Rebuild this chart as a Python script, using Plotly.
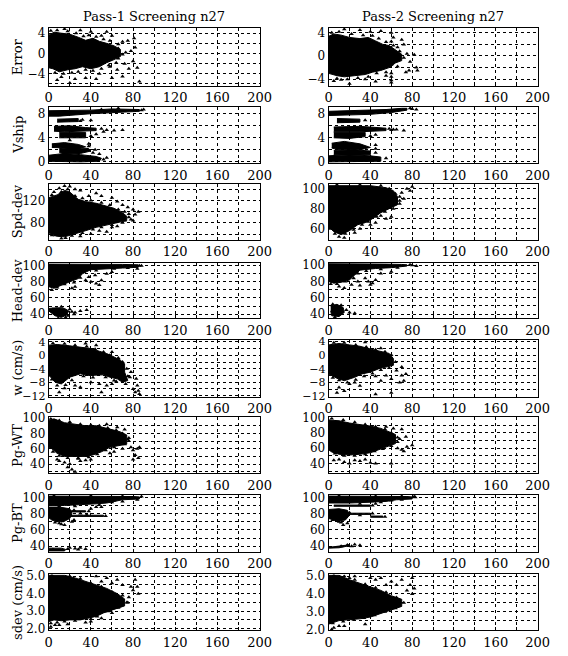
import plotly.graph_objects as go

W, H = 568, 656

TITLES = ["Pass-1 Screening n27", "Pass-2 Screening n27"]
Y_LABELS = ["Error", "Vship", "Spd-dev", "Head-dev", "w (cm/s)", "Pg-WT", "Pg-BT", "sdev (cm/s)"]
X_TICKS = [0, 40, 80, 120, 160, 200]

# ---- Row 1: Error ----
err1_blob = [(0,3.6),(5,4.2),(12,4.0),(20,3.8),(28,3.2),(35,2.6),(42,3.0),(48,2.4),(55,2.0),(62,1.5),(68,0.8),
             (68,-0.6),(62,-1.2),(55,-1.8),(48,-2.6),(40,-3.0),(32,-2.6),(25,-3.0),(18,-3.2),(10,-3.6),(4,-3.0),(0,-2.8)]
err1_pts = [(75,2.5),(78,0.5),(82,1.2),(80,-1.5),(84,-2.8),(86,-5.5),(45,-5.0),(60,-4.8),(70,-4.5),(20,-5.8),
            (25,-5.0),(35,-4.8),(55,4.3),(60,3.5),(70,2.3),(72,-2.0),(76,-3.0),(65,-3.2),(50,3.5),(30,4.6),
            (15,4.8),(40,4.3),(48,-4.0),(12,-4.6),(8,-5.2),(58,-2.6),(66,1.8),(64,-1.8),(73,0.2),(81,3.0),
            (2,4.5),(8,4.6),(18,4.4),(26,4.0),(33,3.4),(38,3.6),(45,3.3),(52,2.8),(58,2.5),(66,1.0),
            (70,-0.2),(66,-1.0),(57,-2.3),(50,-3.0),(42,-3.4),(35,-3.2),(28,-3.6),(14,-4.0),(6,-3.8),(22,-3.8)]
err2_blob = [(0,3.4),(5,3.8),(12,3.6),(20,3.2),(30,3.0),(38,3.2),(45,2.6),(52,2.0),(58,1.8),(64,1.0),(70,0.3),
             (70,-0.8),(64,-1.2),(58,-2.0),(50,-2.5),(42,-2.8),(35,-3.2),(25,-3.4),(15,-3.6),(8,-3.4),(0,-3.0)]
err2_pts = [(60,-4.2),(60,-3.6),(60,-4.6),(60,4.0),(62,3.2),(60,2.5),(70,2.8),(72,2.0),(75,0.4),(78,-1.0),
            (82,0.2),(84,-2.0),(85,-2.5),(74,-2.8),(20,-4.8),(35,-4.0),(45,-4.4),(30,4.5),(15,4.6),(40,4.2),
            (50,4.3),(66,1.5),(55,-3.4),(12,-4.1),(5,-4.3),(77,-2.5),
            (3,4.0),(10,4.2),(22,3.8),(33,3.6),(42,3.5),(48,3.0),(55,2.4),(62,1.8),(68,0.8),(72,-0.3),
            (66,-1.8),(55,-2.8),(46,-3.0),(38,-3.6),(28,-3.8),(18,-4.0),(8,-3.9),(60,-3.0),(60,-1.5),(60,0.5)]

# ---- Row 2: Vship ----
vs1_blob = [(0,8.5),(20,8.5),(40,8.6),(60,8.8),(75,8.8),(86,8.7),(86,8.4),(70,8.3),(55,8.2),(40,8.0),(25,7.8),(10,7.6),(0,7.6), None,
            (8,7.1),(28,7.2),(28,6.7),(8,6.6), None,
            (5,5.9),(20,6.0),(35,5.7),(45,5.6),(45,5.2),(30,5.1),(15,5.0),(5,5.1), None,
            (10,4.9),(35,4.9),(35,4.0),(10,4.0), None,
            (3,3.0),(15,3.2),(28,2.9),(35,2.5),(28,2.2),(15,2.3),(3,2.4), None,
            (10,2.2),(25,2.4),(38,2.2),(40,1.8),(30,1.4),(15,1.3),(10,1.6), None,
            (0,1.1),(15,1.4),(30,1.2),(45,0.9),(50,0.6),(48,0.1),(30,0.0),(10,0.0),(0,0.1)]
vs1_pts = [(55,5.3),(62,5.2),(70,5.3),(50,8.7),(88,8.6),(40,6.9),(45,4.6),(38,2.6),(42,1.5),(52,0.4),
           (30,6.8),(32,7.0),(50,5.5),(52,5.0),(40,4.3),(38,3.0),(44,2.0),(48,1.3),(55,0.7),(20,3.6),
           (90,8.7),(66,8.9)]
vs2_blob = [(0,8.4),(30,8.5),(55,8.7),(70,8.9),(75,8.9),(75,8.6),(60,8.2),(40,7.9),(20,7.8),(0,7.7), None,
            (8,7.2),(30,7.1),(30,6.6),(8,6.5), None,
            (5,5.8),(30,5.9),(55,5.6),(55,5.2),(30,5.0),(5,5.0), None,
            (5,4.9),(35,4.9),(35,4.2),(20,3.9),(5,4.0), None,
            (3,3.1),(15,3.4),(30,3.0),(40,2.4),(30,2.0),(10,2.0),(3,2.3), None,
            (5,1.9),(25,2.0),(40,1.8),(40,1.2),(20,1.1),(5,1.2), None,
            (0,1.0),(20,1.2),(40,1.0),(50,0.8),(50,0.1),(0,0.0)]
vs2_pts = [(60,5.3),(65,5.4),(72,5.2),(80,8.8),(84,8.7),(45,4.5),(45,2.2),
           (35,6.9),(58,5.5),(62,5.4),(40,4.3),(45,2.8),(45,1.5),(55,0.6),(78,8.9)]

# ---- Row 3: Spd-dev ----
sd1_blob = [(0,125),(8,130),(15,138),(20,135),(28,122),(35,118),(45,115),(55,110),(62,106),(70,98),(74,92),
            (74,84),(65,80),(55,76),(45,72),(35,66),(25,60),(15,55),(8,56),(0,62)]
sd1_pts = [(20,145),(25,140),(30,138),(45,133),(50,128),(60,125),(65,118),(70,112),(75,108),(80,104),
           (82,95),(85,100),(78,86),(80,84),(55,64),(48,66),(40,60),(30,56),(12,52),(60,72),(65,74),
           (10,142),(5,135),(38,128),(72,84),(68,90),(76,96),(3,58),
           (3,130),(12,135),(18,140),(25,128),(32,124),(40,120),(50,116),(58,112),(66,104),(72,100),
           (76,90),(70,80),(60,76),(50,72),(42,68),(32,62),(22,57),(16,53),(6,58),(15,146)]
sd2_blob = [(0,103),(20,103),(40,103),(55,101),(62,98),(66,92),(66,84),(58,80),(50,76),(42,70),(35,66),
            (28,64),(20,58),(12,54),(5,57),(0,62)]
sd2_pts = [(70,96),(68,88),(72,90),(60,72),(55,70),(50,73),(45,66),(40,64),(25,56),(30,60),(75,100),
           (80,102),(78,98),(64,86),(10,52),(15,51),
           (8,104),(30,104),(50,103),(58,100),(64,95),(68,92),(68,85),(62,80),(54,77),(46,72),(38,67),
           (32,64),(24,59),(16,55),(6,55),(2,60)]

# ---- Row 4: Head-dev ----
hd1_blob = [(0,102),(30,102),(50,102),(70,101.5),(85,101),(85,98),(70,97),(55,96),(40,95),(32,90),(28,84),
            (20,80),(12,76),(5,72),(0,74), None,
            (0,47),(8,48),(15,47),(19,44),(17,39),(12,36),(6,38),(2,42),(0,44)]
hd1_pts = [(22,43),(25,42),(30,44),(36,45),(40,80),(45,78),(48,76),(50,82),(38,86),(35,82),(44,88),
           (55,90),(60,92),(25,74),(22,72),(60,97),(82,99),(84,96),(86,100),(18,38),(24,40),
           (3,70),(8,73),(15,77),(24,79),(30,85),(33,92),(45,94),(62,96),(75,97),(88,100),(4,46),(12,49),
           (20,46),(9,35),(16,36)]
hd2_blob = [(0,102),(30,102),(55,101.5),(70,101),(75,100.5),(75,99),(60,97),(45,96),(30,94),(25,88),(20,82),
            (12,79),(5,78),(0,80), None,
            (2,50),(8,52),(14,48),(15,42),(10,37),(3,38),(2,44)]
hd2_pts = [(38,80),(40,76),(42,78),(35,84),(28,80),(22,76),(30,75),(45,82),(20,42),(25,41),(80,100),
           (84,99),(50,90),(60,92),(15,72),(10,74),
           (2,77),(8,77),(16,80),(24,84),(28,90),(36,93),(50,95),(66,97),(78,101),(4,52),(12,51),(17,45),(6,36)]

# ---- Row 5: w (cm/s) ----
w1_blob = [(0,3.0),(8,3.2),(20,2.8),(30,2.4),(40,2.0),(48,1.2),(55,0.5),(62,-0.5),(68,-1.5),(72,-2.5),
           (72,-5.0),(75,-7.5),(70,-8.0),(65,-7.0),(58,-6.5),(52,-5.8),(45,-5.8),(38,-6.0),(30,-5.5),
           (20,-6.5),(12,-8.5),(6,-8.0),(2,-6.5),(0,-6.0)]
w1_pts = [(83,-7.0),(84,-9.0),(85,-10.5),(82,-11.0),(80,-10.0),(50,-11.0),(30,-9.5),(25,-9.0),(10,-11.0),
          (15,-9.8),(40,-8.0),(55,-9.0),(60,-8.5),(62,-7.5),(75,-6.2),(78,-5.0),(45,3.0),(35,3.5),(60,1.0),
          (66,-0.8),(70,-3.5),(48,-8.5),(86,-11.5),(65,-2.5),
          (4,3.6),(15,3.4),(25,3.0),(36,2.6),(44,1.8),(52,1.0),(58,0.0),(66,-1.0),(70,-2.0),(74,-4.0),
          (77,-6.5),(73,-8.5),(64,-7.8),(54,-6.5),(42,-6.6),(33,-6.2),(22,-7.4),(16,-8.8),(8,-9.0),(3,-7.2)]
w2_blob = [(0,3.0),(10,3.4),(20,3.0),(30,2.6),(40,1.8),(50,1.2),(58,0.5),(62,-1.0),(62,-3.0),(55,-3.5),
           (48,-4.0),(40,-5.0),(32,-5.5),(25,-6.5),(15,-7.5),(8,-6.8),(3,-6.0),(0,-5.5)]
w2_pts = [(65,-4.5),(70,-6.0),(72,-7.5),(68,-8.0),(60,-7.0),(55,-6.0),(50,-7.5),(45,-6.2),(20,-8.5),
          (30,-9.0),(10,-9.5),(15,-10.5),(8,-11.0),(45,-11.5),(60,-11.0),(70,-3.5),(74,-5.5),(35,3.8),
          (50,2.0),(25,-8.0),
          (5,3.6),(15,3.6),(26,3.0),(36,2.4),(45,1.6),(54,1.0),(60,0.0),(64,-2.0),(58,-3.8),(50,-4.4),
          (42,-5.4),(34,-6.2),(26,-7.2),(18,-8.0),(10,-7.4),(4,-6.6)]

# ---- Row 6: Pg-WT ----
pw1_blob = [(0,97),(5,99),(15,94),(25,92),(35,90),(45,90),(52,88),(60,85),(68,82),(74,78),(74,66),(66,64),
            (58,62),(50,56),(42,52),(35,50),(25,50),(15,50),(8,54),(3,60),(0,62)]
pw1_pts = [(10,44),(15,42),(20,40),(18,36),(22,33),(25,30),(30,44),(40,46),(35,45),(58,54),(62,56),(70,60),
           (78,62),(80,58),(82,52),(84,60),(80,46),(85,48),(86,62),(75,72),(70,76),(65,88),(72,85),(55,92),
           (8,46),(28,47),
           (2,99),(10,97),(20,95),(30,92),(40,91),(48,90),(56,87),(64,84),(70,80),(76,74),(72,66),(62,62),
           (54,58),(46,53),(38,49),(28,48),(18,48),(10,51),(4,56),(76,70)]
pw2_blob = [(0,97),(10,96),(20,93),(30,91),(40,89),(50,86),(58,82),(64,78),(64,66),(56,62),(48,58),(40,54),
            (30,52),(20,51),(10,52),(3,55),(0,58)]
pw2_pts = [(5,44),(10,45),(15,42),(20,40),(25,44),(30,43),(35,45),(40,41),(60,40),(45,40),(70,58),(66,60),
           (72,56),(75,62),(80,64),(68,72),(74,75),(55,88),(62,86),(70,85),
           (3,99),(14,97),(25,94),(35,91),(45,88),(54,85),(60,80),(66,74),(66,68),(60,63),(52,59),(44,56),
           (35,52),(25,50),(15,50),(6,53)]

# ---- Row 7: Pg-BT ----
pb1_blob = [(0,101.5),(30,101.5),(60,101),(80,101),(86,100.5),(86,98),(70,97),(55,93),(45,92),(30,91),(15,90),(0,90), None,
            (0,88),(10,88),(20,86),(22,80),(20,74),(14,70),(8,70),(3,72),(0,75), None,
            (20,83.5),(35,83.5),(35,82),(20,82), None,
            (20,78),(52,78),(52,76.5),(20,76.5), None,
            (0,37.5),(12,37.5),(16,36),(15,34),(0,34)]
pb1_pts = [(20,38),(25,37),(30,38),(35,36.5),(28,36),(40,86),(45,88),(50,88),(60,94),(70,95),(80,99),
           (84,97),(12,67),(15,66),(10,68),(24,72),(30,80),(36,78.5),
           (5,102),(40,102),(70,101.5),(88,101),(62,96),(48,91),(25,89),(10,89),(24,84),(38,83),(54,77),
           (22,70),(6,69),(4,36),(18,36.5)]
pb2_blob = [(0,101.5),(30,101.5),(55,101),(75,101),(80,100.5),(80,98),(65,97),(55,95),(40,94),(20,93),(0,93), None,
            (5,90.5),(40,90.5),(40,89),(5,89), None,
            (0,85),(10,86),(18,84),(20,78),(16,72),(8,71),(0,74), None,
            (18,80.5),(40,80.5),(40,79),(18,79), None,
            (40,77),(52,77),(52,75.5),(40,75.5), None,
            (0,38.5),(8,39.5),(16,41),(20,42),(20,40.5),(10,38),(0,37.5)]
pb2_pts = [(25,42),(30,41),(22,40),(14,66),(18,68),(60,96),(70,97),(83,100),(45,92),(12,69),(30,78),
           (10,102),(45,101.5),(70,101.5),(82,101),(50,94),(30,92),(42,90),(20,81),(42,80),(54,76),(10,70),
           (4,72),(12,40),(18,41.5)]

# ---- Row 8: sdev (cm/s) ----
sv1_blob = [(0,5.05),(15,5.05),(25,4.9),(35,4.7),(45,4.5),(55,4.3),(65,4.0),(72,3.7),(72,3.3),(62,3.1),
            (52,2.9),(45,2.7),(38,2.6),(30,2.5),(20,2.5),(12,2.45),(5,2.5),(0,2.4)]
sv1_pts = [(2,2.1),(6,2.2),(10,2.2),(18,2.25),(35,2.35),(40,2.4),(50,2.6),(60,2.9),(75,3.5),(78,4.4),
           (80,4.2),(82,4.8),(84,4.4),(85,4.0),(70,4.5),(65,4.8),(55,4.9),(45,5.0),(60,4.6),(50,4.7),
           (76,3.8),(68,3.4),
           (3,5.05),(20,5.0),(30,4.85),(40,4.6),(50,4.4),(60,4.1),(70,3.9),(74,3.5),(66,3.2),(56,3.0),
           (46,2.7),(40,2.55),(25,2.45),(15,2.4),(8,2.35),(2,2.3)]
sv2_blob = [(0,5.05),(10,5.05),(20,4.8),(30,4.6),(40,4.4),(50,4.2),(60,3.9),(70,3.7),(70,3.3),(60,3.1),
            (50,2.9),(40,2.7),(30,2.6),(20,2.55),(10,2.5),(0,2.3)]
sv2_pts = [(5,2.1),(3,2.0),(10,2.2),(15,2.2),(35,2.3),(20,4.9),(40,4.9),(45,4.8),(50,4.9),(60,4.7),
           (70,4.8),(80,4.9),(78,4.5),(82,4.3),(80,4.0),(75,4.2),(65,4.5),(55,4.5),(25,5.0),
           (5,5.05),(15,5.0),(25,4.8),(35,4.55),(45,4.35),(55,4.1),(65,3.8),(72,3.5),(64,3.2),(54,3.0),
           (44,2.8),(34,2.65),(24,2.55),(14,2.45),(4,2.35)]

PANELS = [
    [(err1_blob, err1_pts), (err2_blob, err2_pts)],
    [(vs1_blob, vs1_pts), (vs2_blob, vs2_pts)],
    [(sd1_blob, sd1_pts), (sd2_blob, sd2_pts)],
    [(hd1_blob, hd1_pts), (hd2_blob, hd2_pts)],
    [(w1_blob, w1_pts), (w2_blob, w2_pts)],
    [(pw1_blob, pw1_pts), (pw2_blob, pw2_pts)],
    [(pb1_blob, pb1_pts), (pb2_blob, pb2_pts)],
    [(sv1_blob, sv1_pts), (sv2_blob, sv2_pts)],
]

Y_RANGES = [
    [[-6.3, 5.1], [-5.1, 4.9]],
    [[-0.2, 9.1], [-0.2, 9.1]],
    [[50, 150], [49, 105]],
    [[35, 103], [35, 102.5]],
    [[-12.3, 4.6], [-12.2, 4.5]],
    [[28, 101], [27, 100.5]],
    [[33, 103], [33, 103]],
    [[1.9, 5.1], [1.95, 5.1]],
]
Y_DTICK = [[4, 4], [4, 4], [40, 20], [20, 20], [4, 4], [20, 20], [20, 20], [1, 1]]

# layout geometry (pixels)
COL_X = [(46, 263), (334, 549)]
ROW_Y = [(22, 81), (103, 160), (181, 238), (262, 318), (340, 398), (419, 476), (498, 556), (579, 636)]

FONT = "DejaVu Serif"

def unzip(pairs):
    xs, ys = [], []
    for p in pairs:
        if p is None:
            xs.append(None); ys.append(None)
        else:
            xs.append(p[0]); ys.append(p[1])
    return xs, ys

fig = go.Figure()
layout = dict(width=W, height=H, autosize=False, margin=dict(l=0, r=0, t=0, b=0),
              paper_bgcolor="white", plot_bgcolor="white", showlegend=False,
              font=dict(family=FONT, size=13, color="black"))
annotations = []

for r in range(8):
    for c in range(2):
        n = r * 2 + c + 1
        xa = "x" if n == 1 else f"x{n}"
        ya = "y" if n == 1 else f"y{n}"
        blob, pts = PANELS[r][c]
        bx, by = unzip(blob)
        px, py = unzip(pts)
        fig.add_trace(go.Scatter(x=bx, y=by, mode="lines", fill="toself", fillcolor="black",
                                 line=dict(color="black", width=1), xaxis=xa, yaxis=ya,
                                 hoverinfo="skip", connectgaps=False))
        fig.add_trace(go.Scatter(x=px, y=py, mode="markers",
                                 marker=dict(symbol="triangle-up", size=4, color="black"),
                                 xaxis=xa, yaxis=ya, hoverinfo="skip"))
        x0, x1 = COL_X[c]
        y0, y1 = ROW_Y[r]
        dt = Y_DTICK[r][c]
        gridstyle = dict(showgrid=True, gridcolor="black", griddash="dot", gridwidth=1)
        layout["xaxis" if n == 1 else f"xaxis{n}"] = dict(
            domain=[x0 / W, x1 / W], anchor=ya, range=[0, 200], tickvals=X_TICKS,
            showline=True, linecolor="black", linewidth=1, mirror=True, zeroline=False,
            ticks="inside", ticklen=3, tickcolor="black",
            tickfont=dict(family=FONT, size=13), **gridstyle,
            minor=dict(dtick=20, tick0=0, showgrid=True, gridcolor="black", griddash="dot",
                       ticks="inside", ticklen=3, tickcolor="black"))
        layout["yaxis" if n == 1 else f"yaxis{n}"] = dict(
            domain=[1 - y1 / H, 1 - y0 / H], anchor=xa, range=Y_RANGES[r][c],
            tick0=0, dtick=dt, tickformat=".1f" if r == 7 else None,
            showline=True, linecolor="black", linewidth=1, mirror=True, zeroline=False,
            ticks="", tickfont=dict(family=FONT, size=11 if r == 4 else 12), **gridstyle,
            minor=dict(dtick=dt / 2, tick0=0, showgrid=True, gridcolor="black", griddash="dot"))
    annotations.append(dict(text=Y_LABELS[r], x=14 / W, y=1 - (ROW_Y[r][0] + ROW_Y[r][1]) / 2 / H,
                            xref="paper", yref="paper", textangle=-90, showarrow=False,
                            xanchor="center", yanchor="middle", font=dict(family=FONT, size=13)))

for c in range(2):
    annotations.append(dict(text=TITLES[c], x=(COL_X[c][0] + COL_X[c][1]) / 2 / W, y=1 - 11 / H,
                            xref="paper", yref="paper", showarrow=False, xanchor="center",
                            yanchor="middle", font=dict(family=FONT, size=13)))

layout["annotations"] = annotations
fig.update_layout(**layout)
fig.write_html("out.html", config={"displayModeBar": False, "staticPlot": True},
               post_script="document.body.style.margin='0';")
